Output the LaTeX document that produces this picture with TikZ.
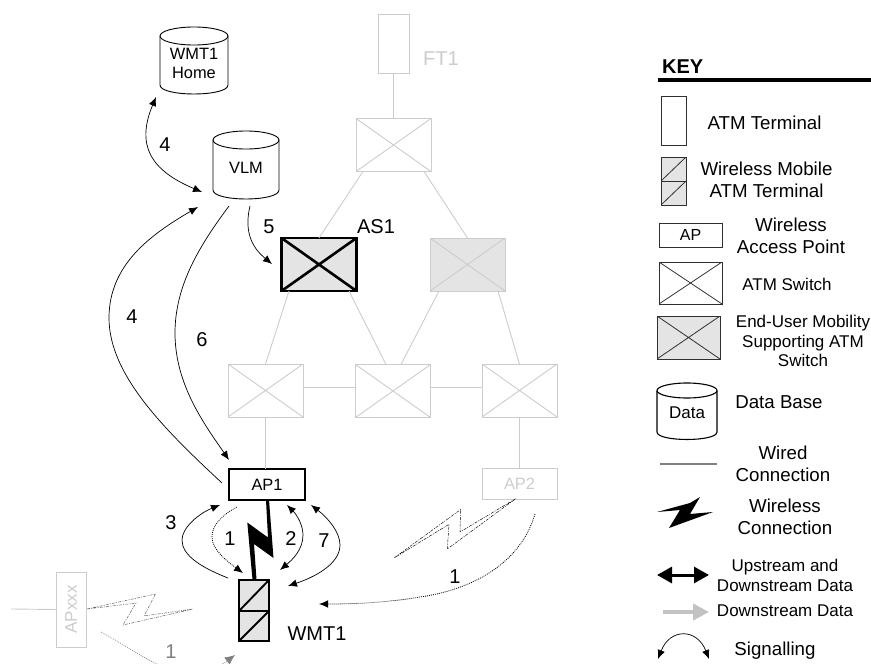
\documentclass[tikz,border=0pt]{standalone}
\usepackage{fontspec}
\setmainfont{Liberation Sans}
\usetikzlibrary{arrows.meta,calc}
\definecolor{lgrey}{HTML}{CCCCCC}
\definecolor{fillg}{HTML}{E4E4E4}
\definecolor{midg}{HTML}{808080}
\definecolor{darkl}{HTML}{303030}
\newcommand{\fs}[1]{\pgfmathsetmacro\fsleading{#1*1.17}\fontsize{#1}{\fsleading}\selectfont}
\tikzset{
  box/.style={draw,rectangle,inner sep=0pt,outer sep=0pt,minimum width=#1,anchor=center},
  xbox/.style={path picture={\draw[line width=\pgflinewidth]
     (path picture bounding box.north west)--(path picture bounding box.south east)
     (path picture bounding box.south west)--(path picture bounding box.north east);}},
  dbox/.style={path picture={\draw[line width=\pgflinewidth]
     (path picture bounding box.south west)--(path picture bounding box.north east);}},
  sw/.style={box=75pt,minimum height=53pt,xbox,draw=lgrey,line width=.9pt},
  wire/.style={draw=lgrey,line width=.9pt},
  sig/.style={line width=.7pt,draw=black},
  both/.style={{Latex[length=9pt,width=7.5pt]}-{Latex[length=9pt,width=7.5pt]}},
  one/.style={-{Latex[length=9pt,width=7.5pt]}},
  dots/.style={dash pattern=on .9pt off 1.1pt,line width=.8pt},
  num/.style={font=\fs{20},inner sep=0pt},
  keyl/.style={font=\fs{18.7},align=center,inner sep=0pt},
  keys/.style={font=\fs{17},align=center,inner sep=0pt},
  boxt/.style={font=\fs{16.4},align=center,inner sep=0pt},
  keyline/.style={draw=darkl,line width=.8pt},
  bolt/.style={line width=.45pt,dash pattern=on 3pt off 1.2pt on 1pt off 1.2pt},
}
\newcommand{\dbcyl}[6]{% x1,x2,cy,ry,yb,lw
  \draw[line width=#6] ({(#1+#2)/2},#3) ellipse [x radius={(#2-#1)/2},y radius=#4];
  \draw[line width=#6] (#1,#3) -- (#1,#5) .. controls (#1,#5+1.33*#4) and (#2,#5+1.33*#4) .. (#2,#5) -- (#2,#3);
}
\begin{document}
\begin{tikzpicture}[x=1pt,y=-1pt]
\useasboundingbox (0,0) rectangle (871,664);
\clip (0,0) rectangle (871,664);

% --- network
\node[box=31pt,minimum height=59pt,draw=lgrey,line width=.9pt] (ft1) at (393.5,43.5) {};
\node[font=\fs{20},text=lgrey,inner sep=0pt] (ft1l) at (441,59) {FT1};
\node[sw] (top) at (393.5,145) {};
\node[sw,fill=fillg,line width=2.6pt,draw=black] (as1) at (319,264.5) {};
\node[sw,fill=fillg] (gs) at (467.5,264.5) {};
\node[sw] (s1) at (265.5,390.5) {};
\node[sw] (s2) at (393,391) {};
\node[sw] (s3) at (519.5,390.5) {};
\node[box=76pt,minimum height=31pt,line width=2.4pt,font=\fs{16.4}] (ap1) at (267,484.5) {AP1};
\node[box=75pt,minimum height=31pt,draw=lgrey,line width=.9pt,text=lgrey,font=\fs{16.4}] (ap2) at (519.5,483.5) {AP2};
\node[box=30pt,minimum height=75pt,draw=lgrey,line width=.9pt] (apx) at (71,609.5) {};
\node[rotate=90,text=lgrey,font=\fs{17},inner sep=0pt] (apxl) at (71,609.5) {APxxx};
\coordinate (apxw) at (11,609);

\draw[wire] (ft1.south) -- (top.north);
\draw[wire] ([xshift=-30.5pt]top.south) -- (as1.north);
\draw[wire] ([xshift=30.5pt]top.south) -- (gs.north);
\draw[wire] ([xshift=-30pt]as1.south) -- (s1.north);
\draw[wire] ([xshift=30pt]as1.south) -- ([xshift=-7pt]s2.north);
\draw[wire] ([xshift=-28.5pt]gs.south) -- ([xshift=8pt]s2.north);
\draw[wire] ([xshift=30.5pt]gs.south) -- (s3.north);
\draw[wire] ([yshift=3.5pt]s1.east) -- ([yshift=4pt]s2.west);
\draw[wire] ([yshift=4pt]s2.east) -- ([yshift=3.5pt]s3.west);
\draw[wire] (s1.south) -- (s1.south |- ap1.north);
\draw[wire] (s3.south) -- (ap2.north);
\draw[wire] (apxw) -- (apx.west);

% WMT1
\node[box=30pt,minimum height=31pt,fill=fillg,line width=1.9pt,dbox] (w1) at (254,595.5) {};
\node[box=30pt,minimum height=30pt,fill=fillg,line width=1.9pt,dbox] (w2) at (254,626) {};
\node[num] (wl) at (317,634) {WMT1};

% main bolt
\fill (266,500) -- (269,500) -- (273.5,558) -- (254,544) -- (256.5,579.5) -- (252.5,579.5) -- (247.3,522.5) -- (268,537.5) -- cycle;
% dashed bolts
\draw[bolt,draw=black!65] (87,609) -- (155.5,594) -- (144,616) -- (193,609) -- (123,625) -- (136,603) -- cycle;
\draw[bolt,draw=black] (515.7,498.7) -- (460,532) -- (460.7,509.5) -- (394,558) -- (449,524.3) -- (447.3,549) -- cycle;

% databases
\dbcyl{160}{228}{36}{9}{85}{.9pt}
\node[boxt] (home) at (194,63.5) {WMT1\\[-.5pt]Home};
\dbcyl{213}{279}{140}{9}{190}{.9pt}
\node[boxt] (vlm) at (246,168) {VLM};

% signalling
\coordinate (hs) at (156,97); \coordinate (vh) at (202,192);
\draw[sig,both] (hs) .. controls (136,145) and (150,170) .. (vh);
\coordinate (v4) at (198,207); \coordinate (a4) at (222,483);
\draw[sig,one] (a4) .. controls (165,430) and (109,375) .. (109,318) .. controls (109,265) and (150,235) .. (v4);
\coordinate (v6) at (229,206); \coordinate (a6) at (229,460);
\draw[sig,one] (v6) .. controls (200,245) and (175,285) .. (175,333) .. controls (175,385) and (205,425) .. (a6);
\coordinate (v5) at (250,206); \coordinate (s5) at (272,264);
\draw[sig,one] (v5) .. controls (243,235) and (255,250) .. (s5);
\coordinate (w3) at (228,578); \coordinate (a3) at (220,505);
\draw[sig,one] (w3) .. controls (200,567) and (182,555) .. (182,540) .. controls (182,527) and (200,513) .. (a3);
\coordinate (a1) at (237,507); \coordinate (w1a) at (243,573);
\draw[dots,one] (a1) .. controls (222,515) and (212,525) .. (212,537) .. controls (212,550) and (228,562) .. (w1a);
\coordinate (a2) at (287,505); \coordinate (w2a) at (280,570);
\draw[sig,both] (a2) .. controls (297,515) and (303,525) .. (303,535) .. controls (303,550) and (292,560) .. (w2a);
\coordinate (a7) at (311,505); \coordinate (w7) at (288,586);
\draw[sig,both] (a7) .. controls (328,518) and (340,532) .. (340,545) .. controls (340,565) and (312,578) .. (w7);
\coordinate (a21) at (535,514); \coordinate (w21) at (319,604);
\draw[dots,one] (a21) .. controls (520,565) and (470,590) .. (420,597) .. controls (385,603) and (350,604) .. (w21);
\coordinate (ax1) at (101,632); \coordinate (wx1) at (235,655);
\draw[dots,draw=midg,line width=.7pt,-{Latex[length=10pt,width=9pt,midg]}] (ax1) .. controls (125,645) and (140,656) .. (157,664) .. controls (185,675) and (215,670) .. (wx1);

% numbers
\node[num] (n4a) at (165,145) {4};
\node[num] (n4b) at (132,317) {4};
\node[num] (n6) at (202,340) {6};
\node[num] (n5) at (269,227) {5};
\node[num] (nas) at (376,227) {AS1};
\node[num] (n3) at (171,523) {3};
\node[num] (n1) at (230,539) {1};
\node[num] (n2) at (291,539) {2};
\node[num] (n7) at (324,541) {7};
\node[num] (n1b) at (455,577) {1};
\node[num,text=midg] (n1c) at (171,652) {1};

% --- key
\node[font=\bfseries\fs{20},inner sep=0pt,anchor=west] (key) at (662,67) {KEY};
\fill (658,78) rectangle (871,82);

\node[box=25pt,minimum height=49pt,keyline] (k1) at (673.5,120.5) {};
\node[keyl] at (764.5,123) {ATM Terminal};
\node[box=25pt,minimum height=24pt,keyline,fill=fillg,dbox] (k2a) at (673.5,169) {};
\node[box=25pt,minimum height=24pt,keyline,fill=fillg,dbox] (k2b) at (673.5,193) {};
\node[keyl] at (766.5,179.5) {Wireless Mobile\\ATM Terminal};
\node[box=63pt,minimum height=24pt,keyline,font=\fs{16}] (k3) at (690.5,235) {AP};
\node[keyl] at (791,236) {Wireless\\Access Point};
\node[box=63pt,minimum height=42pt,keyline,xbox] (k4) at (690.5,283) {};
\node[keys] at (787,284) {ATM Switch};
\node[box=63pt,minimum height=43pt,keyline,fill=fillg,xbox] (k5) at (688.5,337.5) {};
\node[keys] at (803,341) {End-User Mobility\\Supporting ATM\\Switch};
\dbcyl{657}{717}{390.5}{7.5}{432}{1.1pt}
\node[font=\fs{17},inner sep=0pt] (k6) at (687,413) {Data};
\node[keyl] at (779,402) {Data Base};
\coordinate (k7a) at (660,464); \coordinate (k7b) at (717,464);
\draw[draw=midg,line width=1.5pt] (k7a) -- (k7b);
\node[keyl] at (783,464) {Wired\\Connection};
\fill (657,512) -- (690,503) -- (700,497) -- (690,514) -- (713,512) -- (669,528) -- (680,510) -- cycle;
\node[keyl] at (785,517) {Wireless\\Connection};
\coordinate (k9a) at (657,575); \coordinate (k9b) at (709,575);
\draw[line width=3pt,{Triangle[length=15pt,width=16pt]}-{Triangle[length=15pt,width=16pt]}] (k9a) -- (k9b);
\node[keys] at (785,575.5) {Upstream and\\Downstream Data};
\coordinate (k10a) at (663,612); \coordinate (k10b) at (709,612);
\draw[draw=lgrey!95!black,line width=4pt,-{Triangle[length=16pt,width=16pt]}] (k10a) -- (k10b);
\node[keys] at (785,611) {Downstream Data};
\coordinate (k11a) at (658,659); \coordinate (k11b) at (709,659);
\draw[sig,both] (k11a) .. controls (670,628) and (697,628) .. (k11b);
\node[keyl] at (775,651) {Signalling};
\end{tikzpicture}
\end{document}
